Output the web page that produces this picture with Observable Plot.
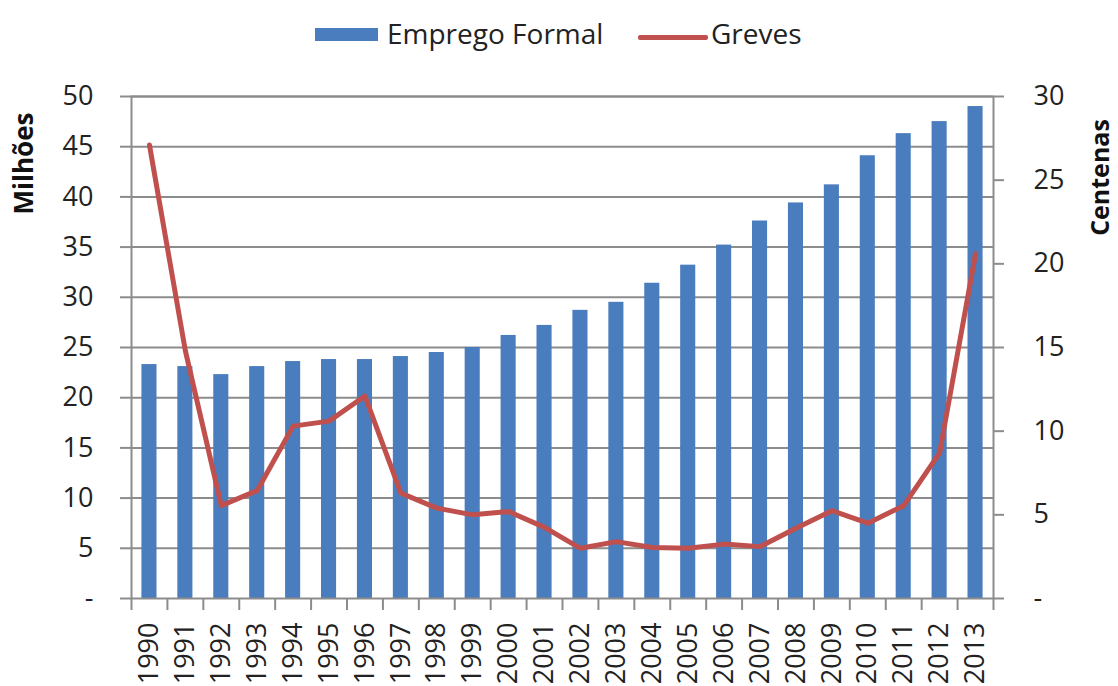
<!DOCTYPE html>
<html>
<head>
<meta charset="utf-8">
<script src="https://cdn.jsdelivr.net/npm/d3@7"></script>
<script src="https://cdn.jsdelivr.net/npm/@observablehq/plot@0.6"></script>
<style>
  html, body { margin: 0; padding: 0; background: #fff; }
  #wrap { width: 1118px; font-family: "Open Sans", sans-serif; color: #222; }
  #legend { position: relative; width: 1118px; height: 60px; font-size: 28px; }
  #legend .sw { position: absolute; }
  #legend .lt { position: absolute; line-height: 36px; top: 15px; white-space: nowrap; }
  svg { display: block; }
</style>
</head>
<body>
<div id="wrap">
  <div id="legend">
    <div class="sw" style="left:315px;top:28px;width:63px;height:13px;background:#4a7dbd"></div>
    <div class="lt" style="left:387px">Emprego Formal</div>
    <div class="sw" style="left:638px;top:35px;width:70px;height:5px;background:#c0504d;border-radius:2px"></div>
    <div class="lt" style="left:711px">Greves</div>
  </div>
  <div id="chart"></div>
</div>
<script>
const years = ["1990","1991","1992","1993","1994","1995","1996","1997","1998","1999","2000","2001","2002","2003","2004","2005","2006","2007","2008","2009","2010","2011","2012","2013"];
const empregoFormal = [23.3, 23.1, 22.3, 23.1, 23.6, 23.8, 23.8, 24.1, 24.5, 25.0, 26.2, 27.2, 28.7, 29.5, 31.4, 33.2, 35.2, 37.6, 39.4, 41.2, 44.1, 46.3, 47.5, 49.0];
const greves = [27.1, 14.8, 5.55, 6.45, 10.3, 10.6, 12.1, 6.3, 5.4, 5.0, 5.2, 4.25, 3.0, 3.4, 3.05, 3.0, 3.25, 3.1, 4.2, 5.25, 4.5, 5.55, 8.7, 20.6];
const leftTicks = [0, 5, 10, 15, 20, 25, 30, 35, 40, 45, 50];
const rightTicks = [0, 5, 10, 15, 20, 25, 30];

const leftMax = 50, rightMax = 30;
const ratio = leftMax / rightMax;
const data = years.map((y, i) => ({year: y, emp: empregoFormal[i], greves: greves[i]}));

const W = 1118, H = 626;
const mL = 131, mR = 125, mT = 36, mB = 88;
const step = (W - mL - mR) / years.length;
const grey = "#8c8c8c";
const fmt = d => d === 0 ? "-" : String(d);

const chart = Plot.plot({
  width: W, height: H,
  marginLeft: mL, marginRight: mR, marginTop: mT, marginBottom: mB,
  style: {fontFamily: "Open Sans, sans-serif", fontSize: "27px", color: "#222", background: "#fff"},
  x: {type: "band", domain: years, paddingInner: 0.58, paddingOuter: 0.29, round: false, label: null},
  y: {domain: [0, leftMax], label: null},
  marks: [
    Plot.gridY({ticks: leftTicks.filter(d => d > 0), stroke: grey, strokeOpacity: 1, strokeWidth: 2}),
    Plot.barY(data, {x: "year", y: "emp", fill: "#4a7dbd"}),
    Plot.frame({stroke: grey, strokeWidth: 2}),
    Plot.axisY({ticks: leftTicks, tickFormat: fmt, tickSize: 11, tickPadding: 27, stroke: grey, strokeWidth: 2, label: null, fill: "#222"}),
    Plot.axisY({anchor: "right", ticks: rightTicks.map(v => v * ratio), tickFormat: d => fmt(Math.round(d / ratio)), tickSize: 10, tickPadding: 30, stroke: grey, strokeWidth: 2, label: null, fill: "#222", textAnchor: "start"}),
    Plot.axisX({tickSize: 0, tickPadding: 24, tickRotate: -90, label: null, fill: "#222"}),
    Plot.axisX({ticks: years, tickFormat: () => "", tickSize: 12, dx: -step / 2, stroke: grey, strokeWidth: 2, label: null}),
    Plot.axisX({ticks: [years[years.length - 1]], tickFormat: () => "", tickSize: 12, dx: step / 2, stroke: grey, strokeWidth: 2, label: null}),
    Plot.lineY(data, {x: "year", y: d => d.greves * ratio, stroke: "#c0504d", strokeWidth: 5, strokeLinejoin: "round", strokeLinecap: "round"}),
    Plot.text(["Milhões"], {frameAnchor: "top-left", dx: -117, dy: 67, rotate: -90, fontWeight: "bold", fontSize: 26, fill: "#111", textAnchor: "middle"}),
    Plot.text(["Centenas"], {frameAnchor: "top-right", dx: 98, dy: 81, rotate: -90, fontWeight: "bold", fontSize: 25, fill: "#111", textAnchor: "middle"})
  ]
});
document.getElementById("chart").appendChild(chart);
</script>
</body>
</html>
